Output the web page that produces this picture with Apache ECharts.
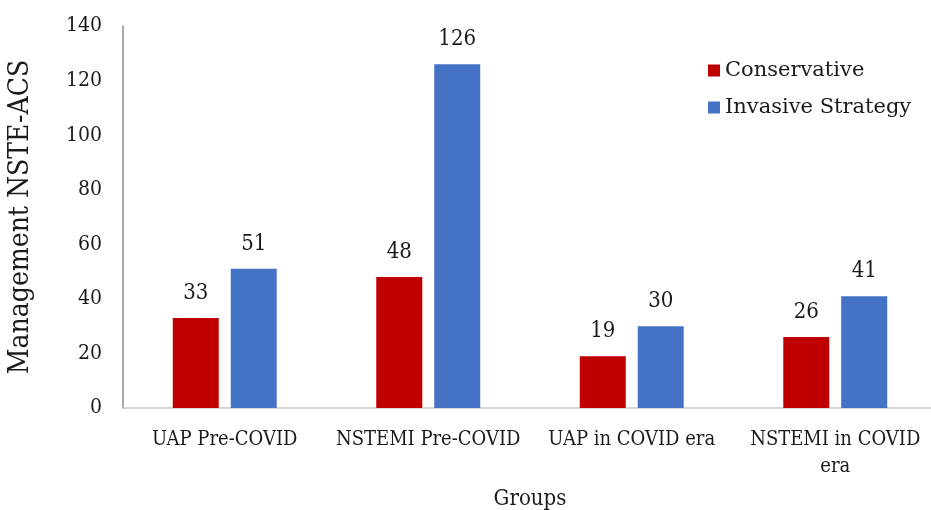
<!DOCTYPE html>
<html>
<head>
<meta charset="utf-8">
<script src="https://cdn.jsdelivr.net/npm/echarts@6/dist/echarts.min.js"></script>
<style>
html,body{margin:0;padding:0;background:#fff;}
#chart{width:931px;height:510px;}
</style>
</head>
<body>
<div id="chart"></div>
<script>
const categories = ['UAP Pre-COVID', 'NSTEMI Pre-COVID', 'UAP in COVID era', 'NSTEMI in COVID era'];
const conservative = [33, 48, 19, 26];
const invasive = [51, 126, 30, 41];
const yTicks = [0, 20, 40, 60, 80, 100, 120, 140];

const FONT = '"DejaVu Serif Condensed", "DejaVu Serif", serif';
const FONT_WIDE = '"DejaVu Serif", serif';
const chart = echarts.init(document.getElementById('chart'), null, {renderer: 'canvas'});
chart.setOption({
  animation: false,
  backgroundColor: '#ffffff',
  textStyle: {fontFamily: FONT, color: '#1a1a1a'},
  grid: {left: 123, right: -6, top: 26, bottom: 102, outerBoundsMode: 'none', containLabel: false},
  legend: {
    orient: 'vertical',
    left: 703, top: 55,
    icon: 'rect',
    itemWidth: 12, itemHeight: 12,
    itemGap: 16,
    textStyle: {fontFamily: FONT_WIDE, fontSize: 21, color: '#1a1a1a'},
    data: ['Conservative', 'Invasive Strategy']
  },
  xAxis: {
    type: 'category',
    data: categories,
    name: 'Groups',
    nameLocation: 'middle',
    nameGap: 80,
    nameTextStyle: {fontFamily: FONT, fontSize: 22, color: '#1a1a1a'},
    axisLine: {lineStyle: {color: '#c8c8c8', width: 1.5}},
    axisTick: {show: false},
    axisLabel: {
      interval: 0,
      margin: 18,
      fontFamily: FONT, fontSize: 20, color: '#1a1a1a',
      lineHeight: 27,
      formatter: v => v === 'NSTEMI in COVID era' ? 'NSTEMI in COVID\nera' : v
    }
  },
  yAxis: {
    type: 'value',
    min: yTicks[0], max: yTicks[yTicks.length - 1], interval: 20,
    name: 'Management NSTE-ACS',
    nameLocation: 'middle',
    nameGap: 88,
    nameTextStyle: {fontFamily: FONT, fontSize: 28, color: '#1a1a1a'},
    axisLine: {show: true, lineStyle: {color: '#8c8c8c', width: 1.5}},
    axisTick: {show: false},
    splitLine: {show: false},
    axisLabel: {fontFamily: FONT, fontSize: 21, color: '#1a1a1a', margin: 21}
  },
  series: [
    {
      name: 'Conservative', type: 'bar', data: conservative,
      barWidth: 46, barGap: '26%',
      itemStyle: {color: '#C00000'},
      label: {show: true, position: 'top', distance: 14, fontFamily: FONT, fontSize: 22, color: '#1a1a1a'}
    },
    {
      name: 'Invasive Strategy', type: 'bar', data: invasive,
      barWidth: 46, barGap: '26%',
      itemStyle: {color: '#4472C4'},
      label: {show: true, position: 'top', distance: 14, fontFamily: FONT, fontSize: 22, color: '#1a1a1a'}
    }
  ]
});
</script>
</body>
</html>
